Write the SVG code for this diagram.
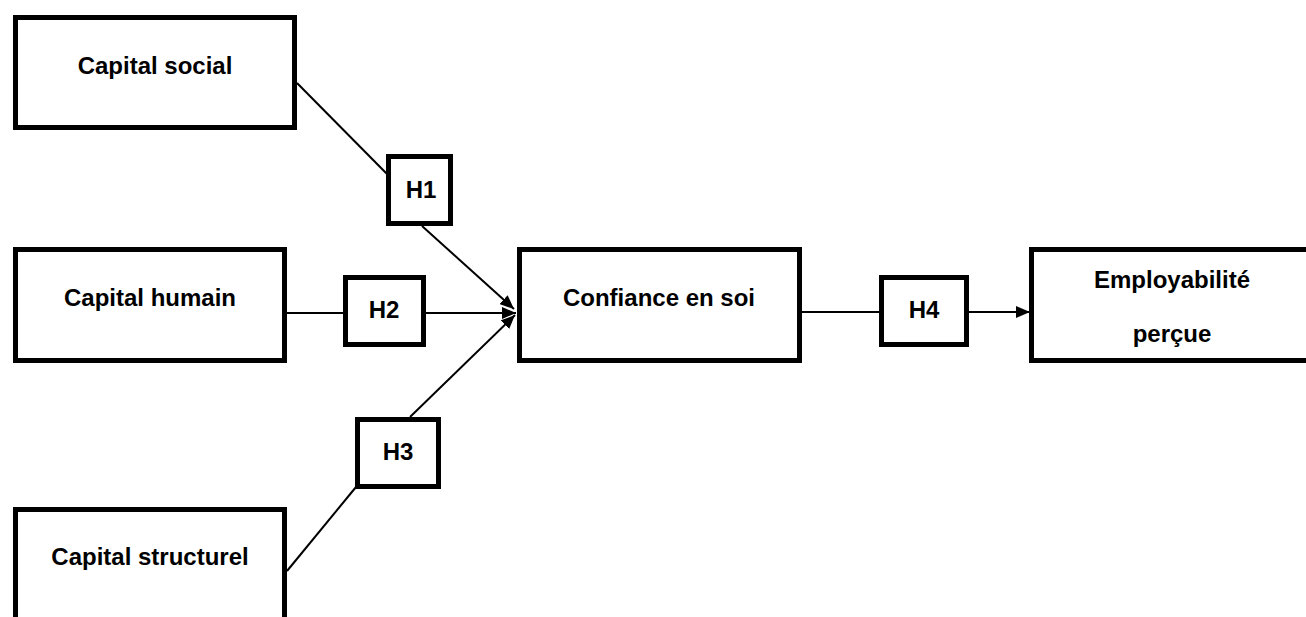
<svg xmlns="http://www.w3.org/2000/svg" width="1306" height="617" viewBox="0 0 1306 617">
<defs>
<marker id="arrow" markerUnits="userSpaceOnUse" markerWidth="14" markerHeight="12" refX="14" refY="6" orient="auto">
<path d="M0,0 L14,6 L0,12 z" fill="#000"/>
</marker>
<style>
.box{fill:#fff;stroke:#000;stroke-width:5}
.lbl{font-family:"Liberation Sans",Arial,sans-serif;font-weight:bold;font-size:24px;fill:#000;text-anchor:middle}
.con{stroke:#000;stroke-width:2;fill:none}
</style>
</defs>
<rect width="1306" height="617" fill="#fff"/>
<g id="connectors">
<line class="con" x1="297" y1="83" x2="387" y2="174"/>
<line class="con" x1="422" y1="226" x2="514" y2="309" marker-end="url(#arrow)"/>
<line class="con" x1="287" y1="313" x2="343" y2="313"/>
<line class="con" x1="426" y1="313" x2="516" y2="313" marker-end="url(#arrow)"/>
<line class="con" x1="287" y1="571" x2="356" y2="487"/>
<line class="con" x1="410" y1="417" x2="515" y2="315" marker-end="url(#arrow)"/>
<line class="con" x1="802" y1="312" x2="879" y2="312"/>
<line class="con" x1="969" y1="312" x2="1030" y2="312" marker-end="url(#arrow)"/>
</g>
<g id="capital-social">
<rect class="box" x="15.5" y="17.5" width="279" height="110"/>
<text class="lbl" x="155" y="74">Capital social</text>
</g>
<g id="capital-humain">
<rect class="box" x="15.5" y="249.5" width="269" height="111"/>
<text class="lbl" x="150" y="306">Capital humain</text>
</g>
<g id="capital-structurel">
<rect class="box" x="15.5" y="509.5" width="269" height="130"/>
<text class="lbl" x="150" y="565">Capital structurel</text>
</g>
<g id="confiance">
<rect class="box" x="519.5" y="249.5" width="280" height="111"/>
<text class="lbl" x="659" y="306">Confiance en soi</text>
</g>
<g id="employabilite">
<rect class="box" x="1031.5" y="249.5" width="300" height="111"/>
<text class="lbl" x="1172" y="288">Employabilité</text>
<text class="lbl" x="1172" y="342">perçue</text>
</g>
<g id="h1">
<rect class="box" x="388.5" y="156.5" width="62" height="67"/>
<text class="lbl" x="421" y="198">H1</text>
</g>
<g id="h2">
<rect class="box" x="345.5" y="277.5" width="78" height="67"/>
<text class="lbl" x="384" y="318">H2</text>
</g>
<g id="h3">
<rect class="box" x="357.5" y="419.5" width="81" height="67"/>
<text class="lbl" x="398" y="460">H3</text>
</g>
<g id="h4">
<rect class="box" x="881.5" y="277.5" width="85" height="67"/>
<text class="lbl" x="924" y="318">H4</text>
</g>
</svg>
